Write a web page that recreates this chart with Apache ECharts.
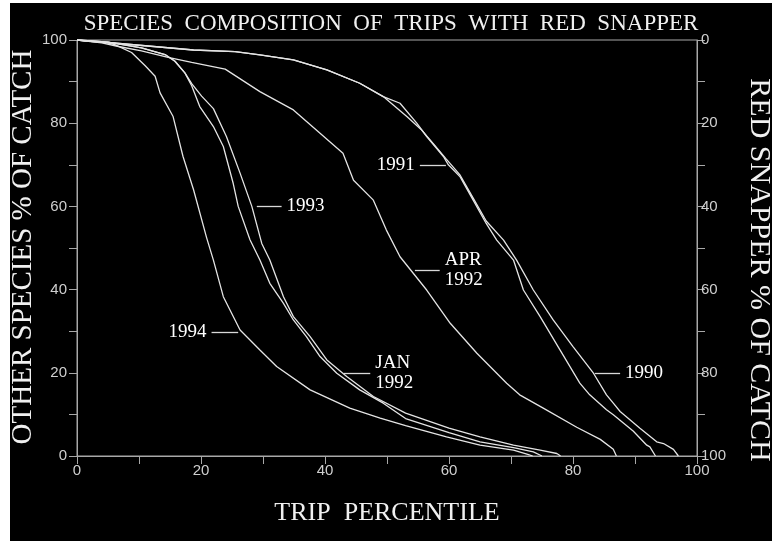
<!DOCTYPE html>
<html><head><meta charset="utf-8">
<script src="https://cdn.jsdelivr.net/npm/echarts@6/dist/echarts.min.js"></script>
<style>
html,body{margin:0;padding:0;background:#fff;width:772px;height:541px;overflow:hidden}
#c{position:absolute;left:10px;top:3px;width:762px;height:538px;background:#000}
</style>
</head><body><div id="c"></div>
<script>
// ---- data (x = trip percentile, y = other species % of catch) ----
const x1990 = [0, 2.6, 5, 18.8, 25.5, 29.5, 34.9, 40.3, 45.6, 49.4, 53.2, 55.5, 57.5, 59.5, 61.8, 63.9, 66, 68.8, 70.9, 73.6, 76.8, 80, 83.3, 85.4, 86.5, 87.6, 90.8, 93.5, 94.6, 96.2, 97];
const y1990 = [100, 99.6, 99.4, 97.6, 97.2, 96.4, 95.2, 92.8, 89.6, 86.4, 81.6, 78.5, 75, 71.5, 67.5, 62, 56.5, 51.9, 47.1, 39.9, 32.7, 26.3, 19.9, 14.7, 12.7, 10.7, 6.7, 3.4, 3.0, 1.6, 0];
const x1991 = [0, 2.6, 5, 18.8, 25.5, 29.5, 34.9, 40.3, 45.6, 49.4, 52.1, 54.8, 56.4, 59.1, 59.9, 61.8, 63.9, 66, 67.7, 70.4, 72, 74.7, 77.9, 81.1, 82.7, 85.4, 86.5, 89.7, 91.9, 92.4, 93.3];
const y1991 = [100, 99.6, 99.4, 97.6, 97.2, 96.4, 95.2, 92.8, 89.6, 86.4, 84.8, 80, 76.8, 72, 70, 67.1, 61.5, 55.9, 51.9, 47.1, 39.9, 33.5, 25.5, 17.5, 14.7, 11.1, 9.9, 6.0, 2.6, 2.2, 0];
const xApr1992 = [0, 4, 6.5, 10.4, 14.7, 18.5, 23.9, 29.5, 34.9, 39.2, 42.9, 44.6, 47.8, 49.9, 52.1, 56.4, 60.2, 64.5, 69.3, 71.4, 75.2, 80.6, 84.4, 86.5, 87];
const yApr1992 = [100, 99.3, 98.5, 97.4, 95.8, 94.6, 93, 87.6, 83.2, 77.6, 72.8, 66.3, 61.5, 54.3, 47.9, 39.9, 31.9, 24.7, 17.5, 14.7, 11.5, 6.9, 4.0, 1.6, 0];
const xJan1992 = [0, 5, 10.4, 14.2, 15.8, 17.4, 18.5, 19.8, 22, 23.6, 25.2, 26, 27.9, 29.5, 31.1, 33.3, 34.9, 37, 39.2, 41.9, 45.6, 49.4, 53, 60, 65, 70.4, 73.6, 75];
const yJan1992 = [100, 99.5, 98.1, 96.5, 94.9, 92.1, 89, 84, 79.2, 74.4, 65.5, 60, 52, 47.1, 41.5, 36.7, 32.7, 28.7, 23.9, 19.9, 15.9, 12.7, 9.0, 5.6, 3.4, 2.0, 1.0, 0];
const x1993 = [0, 5, 10.4, 14.2, 15.8, 17.4, 18.5, 20.1, 22, 24.1, 26.3, 28.2, 29.8, 31.1, 33.3, 34.9, 37.6, 40.3, 43.5, 47.8, 53, 60, 65, 70.4, 74.7, 77.4, 78];
const y1993 = [100, 99.5, 98.1, 96.5, 94.9, 92.1, 89.5, 86.5, 83.5, 76.8, 68, 60, 51.1, 47.1, 38.3, 33.5, 28.7, 23.1, 19.1, 14.3, 10.3, 6.7, 4.6, 2.6, 1.4, 0.6, 0];
const x1994 = [0, 4, 6.1, 8.8, 11, 12.6, 13.4, 15.5, 17.1, 18.8, 20.9, 22, 23.6, 26.3, 29.5, 32.2, 37.6, 44, 48.9, 53, 59.6, 65, 70.4, 72.7, 73.5];
const y1994 = [100, 99.6, 98.9, 97, 93.8, 91.3, 87.3, 81.6, 72, 64, 52.5, 47.1, 38.3, 30.3, 25.5, 21.5, 15.9, 11.5, 9.1, 7.3, 4.6, 2.6, 1.4, 0.4, 0];

const seriesNames = ['1990', '1991', 'APR 1992', 'JAN 1992', '1993', '1994'];
const seriesX = [x1990, x1991, xApr1992, xJan1992, x1993, x1994];
const seriesY = [y1990, y1991, yApr1992, yJan1992, y1993, y1994];

// curve labels: text, leader line from x1 to x2 at height y (data units), side of text
const labelTexts = ['1990', '1991', 'APR\n1992', 'JAN\n1992', '1993', '1994'];
const labelX1 = [83.5, 55.3, 54.5, 43, 29, 21.7];
const labelX2 = [87.6, 59.5, 58.5, 47.3, 33, 26];
const labelY = [19.9, 70, 44.7, 19.9, 60, 29.8];
const labelSide = ['end', 'start', 'end', 'end', 'end', 'start'];

const titleText = 'SPECIES  COMPOSITION  OF  TRIPS  WITH  RED  SNAPPER';
const xName = 'TRIP  PERCENTILE';
const leftName = 'OTHER SPECIES % OF CATCH';
const rightName = 'RED SNAPPER % OF CATCH';

const tickFont = '"Liberation Sans Narrow", "Liberation Sans", sans-serif';
const serif = '"Liberation Serif", "DejaVu Serif", serif';
const axisCol = '#a8a8a8';
const labCol = '#cfcfcf';

const chart = echarts.init(document.getElementById('c'));
const fmt20 = v => (v % 20 === 0 ? String(v) : '');

const series = seriesNames.map((n, i) => ({
  name: n, type: 'line', xAxisIndex: 0, yAxisIndex: 0,
  data: seriesX[i].map((x, j) => [x, seriesY[i][j]]),
  showSymbol: false, symbol: 'none', silent: true,
  lineStyle: { color: '#e4e4e4', width: 1.3 },
  markLine: {
    silent: true, symbol: ['none', 'none'], animation: false,
    lineStyle: { color: '#d8d8d8', width: 1.3, type: 'solid' },
    label: {
      show: true, position: labelSide[i], distance: 5,
      formatter: labelTexts[i], color: '#ffffff',
      fontFamily: serif, fontSize: 19, lineHeight: 20,
      align: labelSide[i] === 'end' ? 'left' : 'right'
    },
    data: [[{ coord: [labelX1[i], labelY[i]] }, { coord: [labelX2[i], labelY[i]] }]]
  }
}));

chart.setOption({
  animation: false,
  backgroundColor: '#000',
  title: {
    text: titleText, left: 'center', top: 4,
    textStyle: { color: '#f0f0f0', fontFamily: serif, fontSize: 23, fontWeight: 'normal' }
  },
  grid: { left: 67, right: 75, top: 37, bottom: 85, outerBoundsMode: 'none', containLabel: false,
          show: true, borderColor: axisCol, borderWidth: 1, backgroundColor: 'transparent' },
  xAxis: {
    type: 'value', min: 0, max: 100, interval: 10,
    name: xName, nameLocation: 'middle', nameGap: 44,
    nameTextStyle: { color: '#f0f0f0', fontFamily: serif, fontSize: 26 },
    axisLine: { lineStyle: { color: axisCol } },
    axisTick: { length: 8, lineStyle: { color: axisCol } },
    axisLabel: { formatter: fmt20, color: labCol, fontFamily: tickFont, fontSize: 15, margin: 7 },
    splitLine: { show: false }
  },
  yAxis: [{
    type: 'value', min: 0, max: 100, interval: 10, position: 'left',
    axisLine: { show: true, lineStyle: { color: axisCol } },
    axisTick: { show: true, length: 8, lineStyle: { color: axisCol } },
    axisLabel: { formatter: fmt20, color: labCol, fontFamily: tickFont, fontSize: 15, margin: 10 },
    splitLine: { show: false }
  }, {
    type: 'value', min: 0, max: 100, interval: 10, position: 'right', inverse: true,
    axisLine: { show: true, lineStyle: { color: axisCol } },
    axisTick: { show: true, length: 8, lineStyle: { color: axisCol } },
    axisLabel: { formatter: fmt20, color: labCol, fontFamily: tickFont, fontSize: 15, margin: 4 },
    splitLine: { show: false }
  }],
  graphic: [{
    type: 'text', x: 13, y: 244, rotation: Math.PI / 2,
    style: { text: leftName, fill: '#f0f0f0', font: '29px ' + serif, align: 'center', verticalAlign: 'middle' }
  }, {
    type: 'text', x: 749, y: 267, rotation: -Math.PI / 2,
    style: { text: rightName, fill: '#f0f0f0', font: '30px ' + serif, align: 'center', verticalAlign: 'middle' }
  }],
  series: series
});
</script>
</body></html>
